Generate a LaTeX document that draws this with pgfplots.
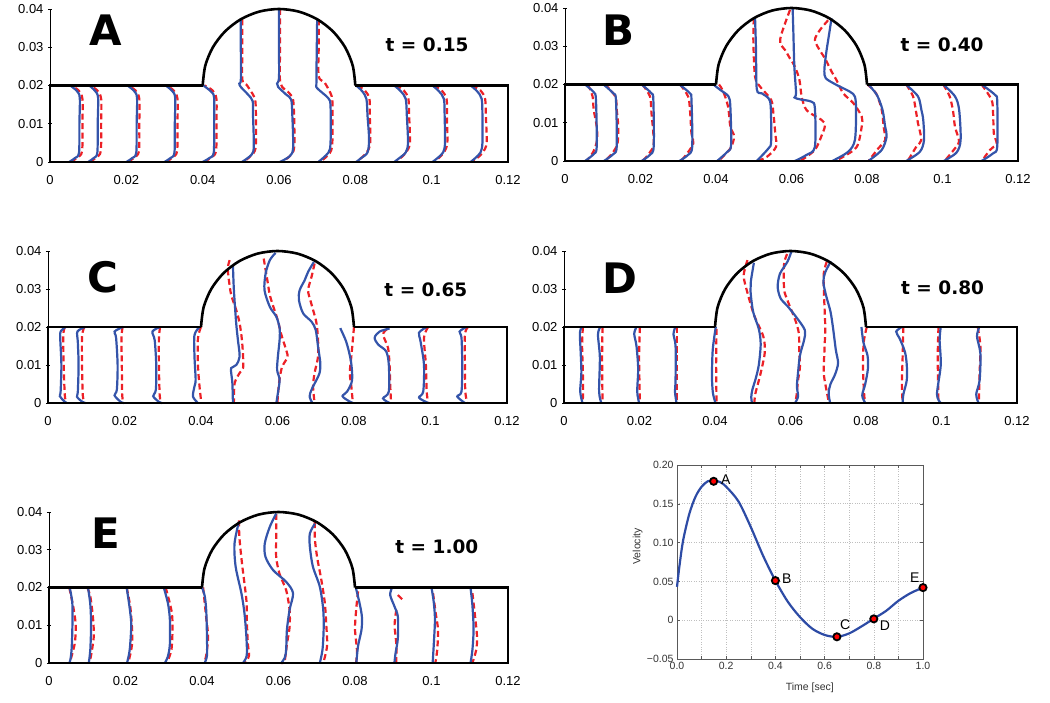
\documentclass[border=0pt]{standalone}
\usepackage{pgfplots}
\pgfplotsset{compat=1.18}
\usepackage{fontspec}
\setmainfont{Liberation Sans}
\newfontfamily\dvs{DejaVu Sans}
\definecolor{pblue}{RGB}{52,84,170}
\definecolor{pred}{RGB}{236,32,38}
\definecolor{vblue}{RGB}{45,75,165}
\newcommand\bigL{\dvs\bfseries\fontsize{42}{42}\selectfont}
\newcommand\tL{\dvs\bfseries\fontsize{18.5}{20}\selectfont}
\pgfplotsset{
  chan/.style={scale only axis, xmin=0,xmax=120,ymin=0,ymax=40, clip=false,
    axis x line*=bottom, axis y line*=left,
    x axis line style={draw=none},
    y axis line style={black, line width=0.7pt},
    xtick={0,20,40,60,80,100,120}, xticklabels={0,0.02,0.04,0.06,0.08,0.1,0.12},
    ytick={0,10,20,30,40}, yticklabels={0,0.01,0.02,0.03,0.04},
    xtick style={draw=none}, ytick style={black,line width=0.7pt},
    major tick length=4pt, tick align=center,
    ticklabel style={font=\fontsize{13}{15}\selectfont},
    xticklabel style={yshift=-7.5pt},
    yticklabel style={xshift=-1pt}},
  bl/.style={draw=pblue, line width=2.2pt, smooth, tension=0.5},
  rd/.style={draw=pred, line width=2.2pt, smooth, tension=0.5, dash pattern=on 6pt off 3.5pt},
  wall/.style={draw=black, line width=2.6pt},
}
\newcommand\PB[1]{\addplot[bl] coordinates {#1};}
\newcommand\PR[1]{\addplot[rd] coordinates {#1};}
\newcommand\walls{%
 \addplot[wall, sharp plot, line join=miter] coordinates {(40,20)(0,20)(0,0)(120,0)(120,20)(80,20)};
 \addplot[wall, smooth] coordinates {(40,20)(40.68,25.18)(42.68,30)(45.86,34.14)(50,37.32)(54.82,39.32)(60,40)(65.18,39.32)(70,37.32)(74.14,34.14)(77.32,30)(79.32,25.18)(80,20)};}
\begin{document}
\begin{tikzpicture}
\useasboundingbox (0,0) rectangle (1050pt,703pt);
%% ---------------- A
\begin{axis}[chan, at={(50pt,541pt)}, anchor=south west, width=458pt, height=153pt]
\PR{(5.5,0)(7.2,1.2)(8.4,2.8)(8.5,10)(8.5,16.5)(7.5,18.7)(5.5,20)}
\PR{(10.5,0)(12.1,1.2)(13.3,2.8)(13.4,10)(13.4,16.5)(12.4,18.7)(10.5,20)}
\PR{(20.5,0)(22.1,1.2)(23.3,2.8)(23.4,10)(23.4,16.5)(22.4,18.7)(20.5,20)}
\PR{(30.5,0)(32.1,1.2)(33.3,2.8)(33.4,10)(33.4,16.5)(32.4,18.7)(30.5,20)}
\PR{(40.5,0)(42.2,1.2)(43.5,2.8)(43.6,10)(43.6,16.5)(42.6,18.7)(40.5,20)}
\PR{(50.35,37.3)(50.4,30)(50.4,21.5)(51.5,20.2)(53.4,17.2)(53.9,14.6)(53.9,4)(52.5,1.5)(50.6,0)}
\PR{(60.3,40)(60.3,30)(60.35,20.7)(62.8,17.9)(63.8,15.4)(64,4.1)(62.8,1.5)(60.6,0)}
\PR{(70.4,37.3)(70.4,30)(70.4,22.4)(72,20.7)(73.8,17.2)(74,13.7)(73.9,4)(72.5,1.5)(70.7,0)}
\PR{(80.5,20)(82.5,18.7)(83.7,16.5)(83.8,12)(83.9,5)(83,2.5)(81.5,1)(80.5,0)}
\PR{(90.5,20)(92.7,18.7)(93.9,16.5)(94.1,12)(94.3,5)(93.3,2.5)(91.8,1)(90.5,0)}
\PR{(100.5,20)(102.6,18.7)(103.9,16.5)(104,12)(104.1,5)(103.2,2.5)(101.8,1)(100.5,0)}
\PR{(110.5,20)(112.8,18.7)(114,16.5)(114.2,12)(114.4,5)(113.4,2.5)(111.9,1)(110.5,0)}
\PB{(5,0)(6.5,1)(7.6,2.4)(7.7,10)(7.8,16.8)(7,18.6)(5.3,20)}
\PB{(10,0)(11.4,1)(12.4,2.4)(12.5,10)(12.6,16.8)(11.8,18.6)(10.3,20)}
\PB{(20,0)(21.5,1)(22.6,2.4)(22.7,10)(22.8,16.8)(22,18.6)(20.3,20)}
\PB{(30,0)(31.5,1)(32.6,2.4)(32.7,10)(32.8,16.8)(32,18.6)(30.3,20)}
\PB{(40,0)(41.7,1)(42.9,2.4)(43,10)(43,16.8)(42.2,18.4)(40.2,20)}
\PB{(50,37.3)(50,30)(50,21.5)(49.6,20.5)(50,19.6)(51.9,17.6)(53.1,15.9)(53.2,12)(53.4,4.1)(52.8,1.9)(50.3,0)}
\PB{(60,40)(60,30)(60,22)(59.5,20.5)(59.8,19.6)(61.9,17.6)(63.2,16.3)(63.5,12)(63.7,3.7)(62.8,1.5)(60.2,0)}
\PB{(70,37.3)(69.9,30)(69.8,20.7)(70,19.3)(72.9,16.7)(73.5,14.6)(73.5,5)(72.9,2.4)(70.3,0)}
\PB{(80.2,20)(81.8,18.5)(82.9,16.5)(83.2,12)(83.6,6)(83.2,2.5)(81.5,1)(80.2,0)}
\PB{(90.2,20)(91.9,18.5)(93.2,16.5)(93.5,12)(93.8,5)(93.2,2.5)(91.5,1)(90.2,0)}
\PB{(100.2,20)(101.9,18.5)(103.2,16.5)(103.4,12)(103.5,5)(103,2.5)(101.5,1)(100.2,0)}
\PB{(110.2,20)(111.9,18.5)(113.1,16.5)(113.3,12)(113.3,5)(112.8,2.5)(111.4,1)(110.2,0)}
\walls
\node[font=\bigL] at (axis cs:14.7,34.5) {A};
\node[font=\tL] at (axis cs:98.8,30.6) {t = 0.15};
\end{axis}
%% ---------------- B
\begin{axis}[chan, at={(565pt,542pt)}, anchor=south west, width=453pt, height=153pt]
\PR{(6.1,20)(7.3,16.9)(7.6,13.4)(8.4,9)(8.5,5.5)(7.5,2.4)(5.7,0)}
\PR{(10.6,20)(13.3,16.9)(13.7,13.4)(14.1,9)(13.9,4.5)(12.5,2)(10.6,0)}
\PR{(20.5,20)(22.5,16.9)(22.9,12.6)(23.4,7.2)(23.4,3.8)(21.5,1)(20.5,0)}
\PR{(30.5,20)(32.6,16.9)(33.1,13.4)(33.5,7.2)(34,4.6)(32,1.5)(30.7,0)}
\PR{(40.8,20)(41.9,18.2)(43.2,14.2)(43.8,9)(44.8,6.4)(43.8,3.3)(41,0.3)}
\PR{(50,37.3)(49.9,31)(50.35,22)(51.7,19.4)(54.6,16)(55.2,12.5)(55.7,7.2)(55.9,3.7)(53.5,1.1)(51,0)}
\PR{(59.6,39.5)(57.4,33.4)(57,30.8)(58.3,29)(59.6,26.8)(60.9,24.7)(62.1,21.2)(62.7,16.8)(64,13.3)(68,10.7)(68.9,9.4)(68.2,7.2)(66.2,2.9)(62.3,0)}
\PR{(69.7,36.8)(67.5,34.2)(66.2,31.6)(67.7,28.6)(68.9,26.8)(70.6,23.4)(71.9,21.2)(73.7,17.7)(76.4,15.1)(78.6,11.6)(78.6,9)(77.3,3.7)(73.7,1.1)(71.5,0)}
\PR{(80.1,20)(82.4,17.7)(83.9,13.4)(84.4,9)(84.8,5.5)(83,3.3)(80.4,0)}
\PR{(90.4,20)(92.2,16.9)(92.9,13.4)(93.5,9.9)(94.4,5.5)(93.1,3.8)(91.2,0.7)(90.6,0)}
\PR{(100.2,20)(101.9,16.9)(102.8,13)(103.3,9)(104.4,5.1)(103.3,3.3)(100.9,0.4)(100.5,0)}
\PR{(110.35,20)(113,16)(113.4,12.5)(113.6,7.2)(114.3,4.6)(112.6,2.9)(110.4,0)}
\PB{(5.3,20)(7.6,18)(8.2,16)(8.4,3.8)(7.6,1.8)(5.3,0)}
\PB{(10.2,20)(12.8,17.7)(13.5,16)(13.7,3.8)(12.8,1.8)(10.3,0)}
\PB{(20.3,20)(22.9,17.7)(23.4,16)(23.5,3.8)(22.5,1.6)(20.3,0)}
\PB{(30.3,20)(33.1,17.7)(33.5,16)(33.7,3.8)(32.6,1.6)(30.3,0)}
\PB{(39.3,20)(41.1,18.6)(43.3,16.9)(43.8,14.2)(44,4.2)(43,2.4)(40.3,0)}
\PB{(50.35,37.3)(50.6,29)(50.8,18.8)(52.1,17.7)(53.9,16.4)(54.5,14.2)(54.6,5.1)(53.9,3.3)(50.8,0)}
\PB{(60.3,40)(60.5,33.4)(60.75,24.7)(61.2,17.7)(60.8,16.6)(62.3,16.1)(65.3,15.5)(66.2,13.8)(66.2,3.7)(64,1.6)(60.9,0)}
\PB{(70.6,37.3)(70,33.4)(69.3,29)(68.85,25.5)(68.7,23.4)(69.1,21.6)(71.9,19.9)(75.5,18.1)(76.8,16.8)(77.1,13.3)(76.8,5.5)(75,2.4)(70.8,0)}
\PB{(80.35,20)(82.6,17.3)(84.1,13.4)(84.8,9)(85.2,6.4)(83.9,2.9)(80.35,0)}
\PB{(90.3,20)(93.5,16.9)(94.4,13.4)(94.9,10.7)(95.1,5.5)(94,2.4)(90.4,0)}
\PB{(100.2,20)(103.3,16.9)(104.4,13.4)(104.8,5.5)(103.7,2.2)(100.35,0)}
\PB{(110.35,20)(113.9,17.3)(114.5,15.5)(114.5,3.8)(113.4,2)(110.35,0)}
\walls
\node[font=\bigL] at (axis cs:14.3,34.3) {B};
\node[font=\tL] at (axis cs:99.9,30.3) {t = 0.40};
\end{axis}
%% ---------------- C
\begin{axis}[chan, at={(48pt,300pt)}, anchor=south west, width=459pt, height=152pt]
\PR{(4.4,20)(4,17.8)(4.1,10)(4.4,2)(4.8,0)}
\PR{(9.5,20)(8.9,17.5)(8.9,10)(9.1,2)(9.6,0)}
\PR{(19.5,20)(19.2,17)(19.3,10)(19.4,2)(19.8,0)}
\PR{(29.3,20)(29,17)(29,10)(29.2,2)(29.6,0)}
\PR{(40,20)(39.2,17)(39.2,10)(39.65,4)(40.1,0)}
\PR{(47.5,37.6)(47,35.5)(47.3,32.3)(47.9,28.4)(49.2,24.5)(50.1,21)(50.7,16.6)(51,12.2)(51,9.2)(50.1,7.9)(48.8,5.2)(48.6,0)}
\PR{(56.4,38)(57.4,32)(58.1,28)(60,22)(61,18)(62.4,13.5)(62.6,12)(61.2,9.5)(60.5,6)(60.1,2)(60,0)}
\PR{(69.7,36.7)(68.9,33.2)(68,29.7)(68.6,27)(69.3,24.5)(70.2,21)(70.6,16.6)(70.6,12.2)(69.7,7.9)(69.3,4.4)(69.7,0)}
\PR{(80,20)(79.7,16.6)(79.3,12.2)(78.9,7.9)(79.3,4.4)(79.7,0)}
\PR{(88.6,19.4)(87.6,18)(88.9,14.5)(89.3,10)(89.5,4)(89.7,0)}
\PR{(99.4,20)(98.3,17.2)(98.8,10)(99,3)(99.4,0)}
\PR{(109.8,20)(109,18)(109,10)(109.1,3)(109.6,0)}
\PB{(4.6,20)(3.3,18.8)(3.2,17)(3.5,10)(3.3,3)(3.1,1.8)(4.2,0.5)(4.9,0)}
\PB{(9.7,20)(7.7,18.8)(7.8,16)(8,10)(7.8,3)(7.6,1.6)(9,0.3)(9.8,0)}
\PB{(19.6,20)(17.4,18.8)(17.8,17.2)(18.2,10)(18,3.5)(17.4,2)(19,0.3)(19.8,0)}
\PB{(29.3,20)(27.3,18.8)(27.9,16.5)(28.3,10)(28.2,3.5)(27.5,1.8)(29,0.3)(29.8,0)}
\PB{(39.65,20)(38.3,17.9)(38.3,12.2)(38.6,6.1)(38.3,4.4)(37.9,1.7)(39.2,0)}
\PB{(48.35,36.2)(48.6,29.7)(49.2,21)(49.65,16.6)(50.1,12.2)(49.2,10)(47.9,9.2)(47.9,7.9)(48.2,5.2)(48.35,0)}
\PB{(59.5,39.5)(58,37.6)(56.9,34.1)(56.6,29.7)(58,25.3)(59.7,22.7)(60.55,19.7)(60.55,16.6)(60.1,12.2)(59.9,8.7)(60.55,6.1)(60.1,2.6)(59.7,0)}
\PB{(69.5,37.1)(68,34.5)(67.1,32.3)(65.8,29.7)(65.6,27.1)(66.7,23.6)(68.9,21.4)(70,19.2)(70.6,14.8)(71.2,10.5)(71,7.9)(70.2,6.1)(68.9,3.5)(68.4,1.7)(69.1,0)}
\PB{(76.4,19.7)(78,16)(79.2,11)(79.5,6)(78.2,3)(77,1.8)(78.5,0.6)(79.7,0)}
\PB{(89.3,19.6)(86.7,18.8)(85.4,17.2)(86.3,15.4)(88.4,13.6)(89.1,10.1)(89.1,3)(87.6,1.2)(89.3,0)}
\PB{(99,20)(97,18.5)(97.4,16.2)(98.3,10)(98.1,3)(97,1.4)(99.4,0)}
\PB{(109.4,20)(107.6,18.8)(108.1,17.2)(108.3,10)(108.1,3)(107,1.7)(109,0)}
\walls
\node[font=\bigL] at (axis cs:14.4,33.2) {C};
\node[font=\tL] at (axis cs:98.8,29.7) {t = 0.65};
\end{axis}
%% ---------------- D
\begin{axis}[chan, at={(564pt,300pt)}, anchor=south west, width=453pt, height=152pt]
\PR{(5,20)(4.8,15)(5,8)(5,0)}
\PR{(10.2,20)(10.1,12)(10.2,0)}
\PR{(20.1,20)(19.9,12)(20.1,0)}
\PR{(30,20)(30,10)(30,0)}
\PR{(40.4,19.5)(40.3,10)(40.4,0)}
\PR{(48.6,37.6)(47.6,33.5)(48.6,29)(50.4,23)(52.8,17.5)(53.2,13.5)(52.5,9.6)(51.5,5.5)(50.7,2.5)(50.4,0)}
\PR{(59.1,39.2)(58.3,36.5)(58.3,30)(59.2,27)(61.2,22)(62.2,18.4)(62.3,14)(62.5,9.6)(62,6)(61.6,2)(61.3,0)}
\PR{(69.6,37.2)(68.8,34)(68.9,28)(69.2,20)(69,14)(68.8,8)(69.5,3.5)(70.2,0)}
\PR{(80.2,20)(79.4,16)(79.2,10)(79.4,4)(79.7,0)}
\PR{(89.9,20)(89.7,12)(89.5,5)(89.7,0)}
\PR{(99.2,20)(99,12)(99.2,0)}
\PR{(109.6,20)(110.3,15)(110.1,8)(109.9,0)}
\PB{(4.6,20)(4.2,18.2)(4.4,13.7)(4.6,8)(4.3,3)(4.9,0)}
\PB{(9.6,20)(9,18)(9.5,12)(9.3,3)(9.9,0)}
\PB{(19.2,20)(18.6,18.2)(19.2,15)(19.65,9)(19.4,3)(19.9,0)}
\PB{(29.4,19.8)(29,18)(29.55,15)(29.55,6)(29.4,3)(29.8,0)}
\PB{(40.2,20)(39.4,14)(39.2,7)(39.4,3)(39.7,1.5)(40.1,0)}
\PB{(50.3,36.9)(49.5,32)(49.4,29.5)(50.1,24)(51.6,19.5)(52.1,15.5)(51.6,10)(50.8,6.5)(49.9,3.5)(49.6,1.5)(49.8,0)}
\PB{(60.3,40)(59.2,37.2)(57.2,34)(56.6,30.5)(57.4,27.5)(59.2,25.5)(61.6,22.5)(63.8,19.2)(63.6,16.6)(62.5,12.5)(62,8)(61.7,4.4)(62,1.7)(61.2,0)}
\PB{(70.7,37.3)(69.2,34.4)(68.7,31.8)(69.5,28)(70.6,24)(71.3,19.5)(72,14)(72.6,10.5)(71.8,7.5)(70.6,5)(70.1,2.6)(70.5,0)}
\PB{(78.8,20)(79.3,16)(80.4,12.5)(80.5,9)(79.8,5)(79,2)(79.8,0)}
\PB{(89.5,20)(88,18.8)(88.9,17)(90.3,13.5)(90.8,10)(90.8,6)(89.9,2.3)(89.7,0)}
\PB{(99.8,20)(99.5,16.5)(99.8,10)(98.8,2.3)(99.8,0)}
\PB{(110,20)(109.4,17.5)(110.3,13)(110.1,6)(109.2,2.3)(109.8,0)}
\walls
\node[font=\bigL] at (axis cs:14.8,32.9) {D};
\node[font=\tL] at (axis cs:100.3,30.3) {t = 0.80};
\end{axis}
%% ---------------- E
\begin{axis}[chan, at={(49pt,40pt)}, anchor=south west, width=459pt, height=151pt]
\PR{(5.3,20)(6.5,14)(7,9.7)(6.7,5)(5.4,0)}
\PR{(10,20)(10.8,17.6)(11.5,12)(11.7,7)(11,2)(10.5,0)}
\PR{(20.3,20)(21.3,14.5)(21.8,7)(21.5,3.5)(20.7,0)}
\PR{(30.5,20)(32,14)(32.3,9.7)(32,3.5)(30.8,0)}
\PR{(40.3,20)(41.1,12)(41.6,7)(41.1,2)(40.5,0)}
\PR{(49.65,37.8)(49.8,33)(50.5,26)(51.6,16.7)(51.7,11.5)(52,5)(52.3,2)(51.3,0)}
\PR{(59.4,39.5)(59.4,33)(59.4,28)(60.3,23.5)(62,19.3)(62.9,14)(62.9,9.5)(62.2,5)(61.6,0.5)(60.7,0)}
\PR{(69.5,37.3)(69.5,33)(70.1,28)(71.2,22)(72.1,16)(72.5,10)(72.7,4.5)(71.7,0)}
\PR{(80.8,19)(80.35,14.6)(80,9)(80.5,3.5)(80.3,0)}
\PR{(91.2,18)(92.7,16.5)}
\PR{(90.8,14.1)(90.35,10)(90.8,5)(90.8,0)}
\PR{(100.4,18.5)(101.1,13.2)(101.7,8.8)(101.5,3.5)(101,0)}
\PR{(110.7,18.5)(111.3,13.2)(111.9,7)(111.7,3.5)(110.7,0)}
\PB{(5.4,20)(6.1,15.8)(6.1,8.8)(5.9,3.5)(5.6,0.9)(5.3,0)}
\PB{(10.2,20)(10.8,15.5)(11,10)(10.8,3.5)(10.4,0)}
\PB{(20.3,20)(21.1,14.5)(21.5,10)(21.1,3.5)(20.4,0)}
\PB{(30,20)(31.1,15.8)(31.6,11.5)(31.6,5)(31.1,1.8)(30.3,0)}
\PB{(40,20)(40.7,17.8)(41.1,14)(41.3,7)(41.3,2)(40.7,0)}
\PB{(49.65,37.4)(48.5,31.6)(48.8,25.5)(50.3,18.5)(51.1,13.2)(51.6,7)(51.7,2)(50.7,0)}
\PB{(59.4,39.6)(57.7,36)(56.4,31.6)(56.6,28.1)(58.6,24.6)(62,21.5)(63.8,18.5)(62.9,14.1)(62.2,8.8)(62,3.5)(61.6,1.3)(60.7,0)}
\PB{(69.5,36.9)(68.2,34.3)(68.2,30.8)(69,25.5)(70.8,20.2)(71.7,14.1)(71.8,8.8)(71.5,3.5)(70.8,0)}
\PB{(80.2,20)(81.2,15.8)(81.8,12.3)(81.7,8.8)(80.8,4.5)(80.35,0)}
\PB{(89.7,20)(89.2,18)(90.35,14.9)(91.2,12.3)(91.2,6.5)(90.6,2.6)(90.3,0)}
\PB{(100,20)(100.6,16)(100.9,11.5)(100.6,5)(100.3,0)}
\PB{(110.2,20)(110.7,15.2)(111,9)(110.7,3.5)(110.2,0)}
\walls
\node[font=\bigL] at (axis cs:14.9,34.4) {E};
\node[font=\tL] at (axis cs:101.4,30.7) {t = 1.00};
\end{axis}
%% ---------------- Velocity
\begin{axis}[at={(677pt,44pt)}, anchor=south west, scale only axis, width=246pt, height=194pt,
 xmin=0, xmax=1, ymin=-0.05, ymax=0.2, clip=false,
 xtick={0,0.1,0.2,0.3,0.4,0.5,0.6,0.7,0.8,0.9,1},
 xticklabels={0.0,,0.2,,0.4,,0.6,,0.8,,1.0},
 ytick={-0.05,0,0.05,0.1,0.15,0.2},
 yticklabels={−0.05,0,0.05,0.10,0.15,0.20},
 grid=major, grid style={dotted, gray!50, line width=0.6pt},
 axis line style={gray!70!black, line width=0.6pt},
 tick style={gray!70!black, line width=0.5pt}, major tick length=3pt, tick align=inside,
 ticklabel style={font=\fontsize{10.5}{12}\selectfont, text=black!80},
 xlabel={Time [sec]}, ylabel={Velocity},
 label style={font=\fontsize{10.5}{12}\selectfont, text=black!80},
 xlabel style={at={(axis description cs:0.54,-0.15)}, anchor=center},
 ylabel style={at={(axis description cs:-0.16,0.58)}, anchor=center}]
\addplot[draw=vblue, line width=2.2pt, smooth, tension=0.5] coordinates {(0,0.043)(0.01,0.07)(0.025,0.103)(0.05,0.137)(0.075,0.159)(0.1,0.172)(0.125,0.179)(0.15,0.18)(0.175,0.178)(0.2,0.172)(0.25,0.153)(0.3,0.12)(0.35,0.083)(0.4,0.051)(0.45,0.024)(0.5,0.004)(0.55,-0.011)(0.6,-0.019)(0.65,-0.0215)(0.7,-0.017)(0.75,-0.008)(0.8,0.002)(0.85,0.012)(0.9,0.025)(0.95,0.035)(1.0,0.042)};
\addplot[only marks, mark=*, mark size=3.6pt, mark options={fill=red, draw=black, line width=1.8pt}] coordinates {(0.149,0.179)(0.4,0.051)(0.65,-0.0214)(0.8,0.0017)(1.0,0.042)};
\node[font=\fontsize{14}{16}\selectfont] at (axis cs:0.198,0.181) {A};
\node[font=\fontsize{14}{16}\selectfont] at (axis cs:0.446,0.054) {B};
\node[font=\fontsize{14}{16}\selectfont] at (axis cs:0.684,-0.006) {C};
\node[font=\fontsize{14}{16}\selectfont] at (axis cs:0.845,-0.0075) {D};
\node[font=\fontsize{14}{16}\selectfont] at (axis cs:0.967,0.055) {E};
\end{axis}
\end{tikzpicture}
\end{document}
